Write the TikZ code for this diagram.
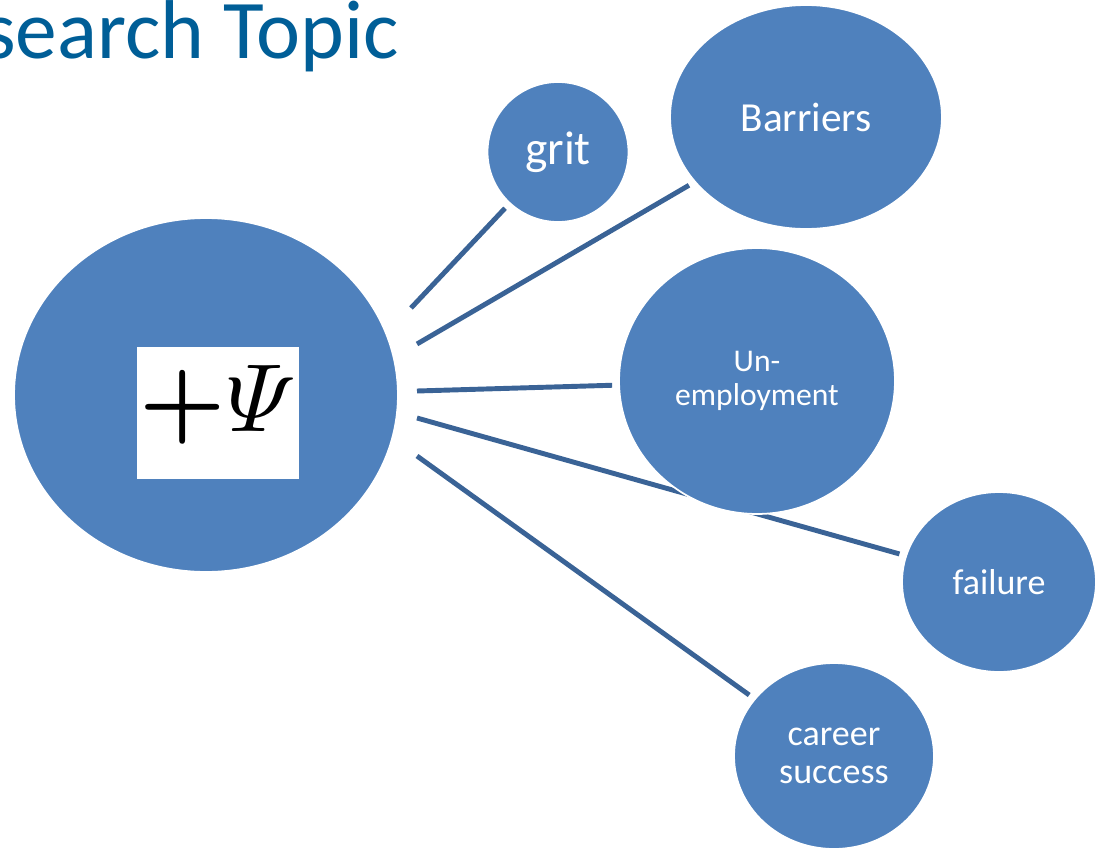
\documentclass[tikz,border=0pt]{standalone}
\usepackage{amsmath}
\usepackage{amssymb}
\usepackage{graphicx}
\usepackage{fontspec}
\setmainfont{Carlito}
\usetikzlibrary{shapes.geometric}
\definecolor{bubble}{RGB}{79,129,189}
\definecolor{spoke}{RGB}{58,99,150}
\definecolor{heading}{RGB}{0,94,151}
\pgfdeclarelayer{back}
\pgfsetlayers{back,main}

\begin{document}
\begin{tikzpicture}[x=0.02cm, y=-0.02cm,
        bubble/.style={ellipse, fill=bubble, draw=white, line width=1pt, inner sep=0pt, text=white, align=center},
        spoke/.style={draw=spoke, line width=2.8pt, shorten >=3.5pt}]
        \useasboundingbox (0,0) rectangle (1099,852);
        \clip (0,0) rectangle (1099,852);
        \node[anchor=base east, inner sep=0pt, text=heading, font=\fontsize{47.5}{52}\selectfont] (title) at (399,58) {Research Topic};
        % hub
        \node[bubble, minimum width=7.68cm, minimum height=7.08cm] (hub) at (206,395) {};
        \node[fill=white, minimum width=3.24cm, minimum height=2.66cm, inner sep=0pt] (psibox) at (218,413) {};
        \node[inner sep=0pt] (psi) at (218,405) {\scalebox{5.5}{$\boldsymbol{+}\varPsi$}};
        % topics
        \node[bubble, minimum width=2.82cm, minimum height=2.8cm, font=\fontsize{27}{30}\selectfont] (grit) at (558,152) {grit};
        \node[bubble, minimum width=5.44cm, minimum height=4.48cm, font=\fontsize{23.5}{26}\selectfont] (barriers) at (806,117) {Barriers};
        \node[bubble, minimum width=5.52cm, minimum height=5.32cm, font=\fontsize{18}{19}\selectfont] (unemp) at (757,381) {Un-\\employment};
        \node[bubble, minimum width=3.88cm, minimum height=3.6cm, font=\fontsize{20.5}{22}\selectfont] (failure) at (999,582) {failure};
        \node[bubble, minimum width=4cm, minimum height=3.72cm, font=\fontsize{20.5}{22}\selectfont] (career) at (834,756) {career\\success};
        % spokes
        \coordinate (from-grit) at (411,308);
        \coordinate (from-barriers) at (417,344);
        \coordinate (from-unemp) at (417,391);
        \coordinate (from-failure) at (417,418);
        \coordinate (from-career) at (417,456);
        \begin{pgfonlayer}{back}
        \draw[spoke] (from-grit) -- (grit);
        \draw[spoke] (from-barriers) -- (barriers);
        \draw[spoke] (from-unemp) -- (unemp);
        \draw[spoke] (from-failure) -- (failure);
        \draw[spoke] (from-career) -- (career);
        \end{pgfonlayer}
    \end{tikzpicture}
\end{document}
